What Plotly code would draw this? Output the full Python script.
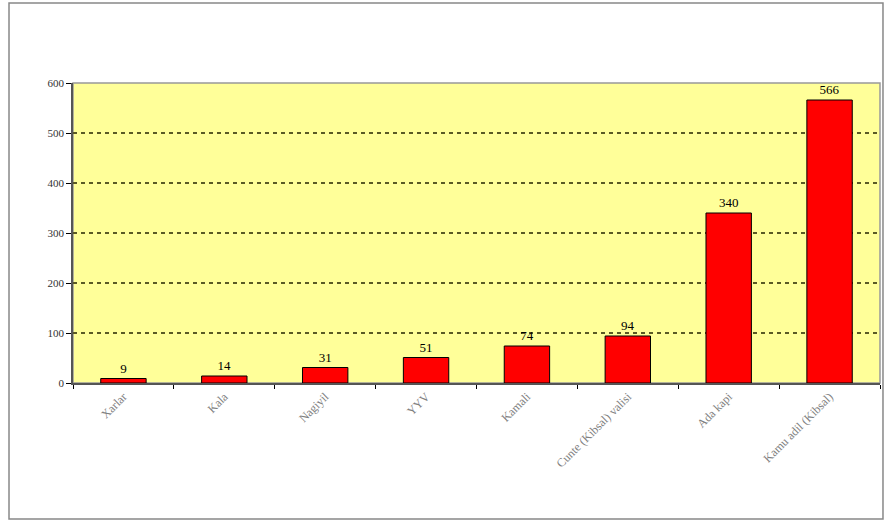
import plotly.graph_objects as go

categories = ["Xarlar", "Kala", "Nagiyil", "YYV", "Kamali",
              "Cunte (Kibsal) valisi", "Ada kapi", "Kamu adil (Kibsal)"]
values = [9, 14, 31, 51, 74, 94, 340, 566]
value_labels = ["9", "14", "31", "51", "74", "94", "340", "566"]
y_ticks = [0, 100, 200, 300, 400, 500, 600]

fig = go.Figure()
fig.add_trace(go.Bar(
    x=categories, y=values, width=0.45,
    marker=dict(color="#FF0000", line=dict(color="#000000", width=1)),
    text=value_labels, textposition="outside",
    textfont=dict(family="Liberation Serif", size=13, color="#000000"),
    cliponaxis=False, hoverinfo="skip",
))

fig.update_layout(
    width=885, height=523,
    margin=dict(l=73, r=5, t=83, b=140),
    paper_bgcolor="white", plot_bgcolor="#FFFF99",
    showlegend=False, bargap=0.55,
    font=dict(family="Liberation Serif"),
)
fig.update_xaxes(
    type="category", tickangle=-45, tickson="boundaries",
    ticks="outside", ticklen=4, tickcolor="#000000",
    showline=True, linecolor="#555555", linewidth=2,
    tickfont=dict(family="Liberation Serif", size=12, color="#808080"),
    showgrid=False, mirror=False,
)
fig.update_yaxes(
    range=[0, 600], tickvals=y_ticks, ticktext=[str(v) for v in y_ticks],
    ticks="outside", ticklen=5, tickcolor="#000000",
    showline=True, linecolor="#555555", linewidth=1.5,
    tickfont=dict(family="Liberation Serif", size=11, color="#333333"),
    showgrid=True, gridcolor="#5a5a25", gridwidth=1.5, griddash="4px,4px",
    zeroline=False,
)
# plot area top/right border
fig.add_shape(type="rect", xref="paper", yref="paper", x0=0, x1=1, y0=0, y1=1,
              line=dict(color="#999999", width=1.5), layer="below")
# outer chart border
fig.add_shape(type="rect", xref="paper", yref="paper",
              x0=-0.0793, x1=1.0037, y0=-0.4533, y1=1.2667,
              line=dict(color="#888888", width=1.5))

fig.write_html("out.html", config={"displayModeBar": False},
               post_script="document.body.style.margin='0';document.body.style.overflow='hidden';")
